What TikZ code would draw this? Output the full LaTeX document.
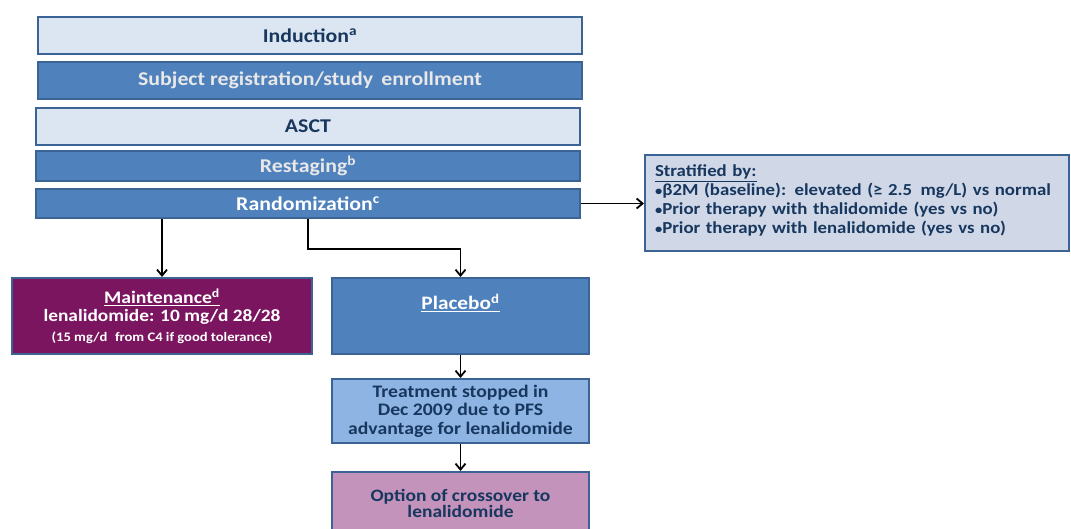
\documentclass[tikz,border=0pt]{standalone}
\usepackage{fontspec}
\setmainfont{Carlito}[FakeStretch=1.12]
\usetikzlibrary{arrows.meta, positioning}
\definecolor{barblue}{HTML}{4F81BD}
\definecolor{edgeblue}{HTML}{3B6394}
\definecolor{paleblue}{HTML}{DCE6F2}
\definecolor{navy}{HTML}{17375E}
\definecolor{plum}{HTML}{7B1560}
\definecolor{skyblue}{HTML}{8DB4E2}
\definecolor{mauve}{HTML}{C393BB}
\definecolor{stratgrey}{HTML}{D0D8E8}
\definecolor{offwhite}{HTML}{E8E8E8}
\newcommand{\stratdot}{{\fontsize{13}{13}\selectfont\raisebox{0.5pt}{•}}}

\begin{document}
\begin{tikzpicture}[x=1pt, y=-1pt,
  bar/.style={
    draw=edgeblue, line width=1.5pt, minimum width=544pt, inner sep=0pt,
    align=center, font=\bfseries\fontsize{19.5}{22}\selectfont
  },
  lightbar/.style={bar, fill=paleblue, text=navy, minimum height=37pt},
  darkbar/.style={bar, fill=barblue, text=offwhite},
  box/.style={
    draw=edgeblue, line width=2pt, minimum width=257pt, minimum height=76pt,
    inner sep=0pt, align=center, font=\bfseries\fontsize{17.6}{18.5}\selectfont
  },
  arr/.style={-{Straight Barb[length=6pt,width=10pt]}, line width=1.8pt, black}
]
  \useasboundingbox (0,0) rectangle (1071,529);

  % stacked steps
  \node[lightbar] (induction) at (310,35.5) {Induction\textsuperscript{a}};
  \node[darkbar, minimum height=37pt] (enroll) at (310,80.5) {Subject registration/study\, enrollment};
  \node[lightbar] (asct) at (308,126.5) {ASCT};
  \node[darkbar, minimum height=30pt] (restage) at (308,166) {Restaging\textsuperscript{b}};
  \node[darkbar, minimum height=29pt, text=white] (random) at (308,203.5) {Randomization\textsuperscript{c}};

  % stratification factors
  \node[draw=edgeblue, line width=2pt, fill=stratgrey, text=navy,
    minimum width=424pt, minimum height=96pt, text width=404pt, align=left,
    font=\bfseries\fontsize{16.8}{19}\selectfont] (strat) at (857,203)
    {\underline{Stratified by:}\\
     \stratdot β2M (baseline): elevated (≥ 2.5\, mg/L) vs normal\\
     \stratdot Prior therapy with thalidomide (yes vs no)\\
     \stratdot Prior therapy with lenalidomide (yes vs no)\\[-12pt]\mbox{}};

  % arms
  \node[box, fill=plum, text=white, minimum width=300pt] (maint) at (162,316)
    {\underline{Maintenance\textsuperscript{d}}\\
     {\fontsize{17.3}{19}\selectfont lenalidomide: 10 mg/d 28/28}\\[1pt]
     {\fontsize{13}{14}\selectfont (15 mg/d\,\, from C4 if good tolerance)}};
  \node[box, fill=barblue, text=white] (placebo) at (460.5,316)
    {{\fontsize{19}{20}\selectfont\underline{Placebo\textsuperscript{d}}}\\[10pt]~};
  \node[box, fill=skyblue, text=navy, minimum height=64pt] (stopped) at (460.5,411)
    {Treatment stopped in\\Dec 2009 due to PFS\\advantage for lenalidomide};
  \node[box, fill=mauve, text=navy, minimum height=62pt,
    font=\bfseries\fontsize{17.4}{16}\selectfont] (crossover) at (460.5,503)
    {Option of crossover to\\lenalidomide};

  \draw[arr] (random.east) -- (random.east -| strat.west);
  \draw[arr] (random.south -| maint.north) -- (maint.north);
  \draw[arr] (random.south) -- ++(0,30) -| (placebo.north);
  \draw[arr] (placebo) -- (stopped);
  \draw[arr] (stopped) -- (crossover);
\end{tikzpicture}
\end{document}
